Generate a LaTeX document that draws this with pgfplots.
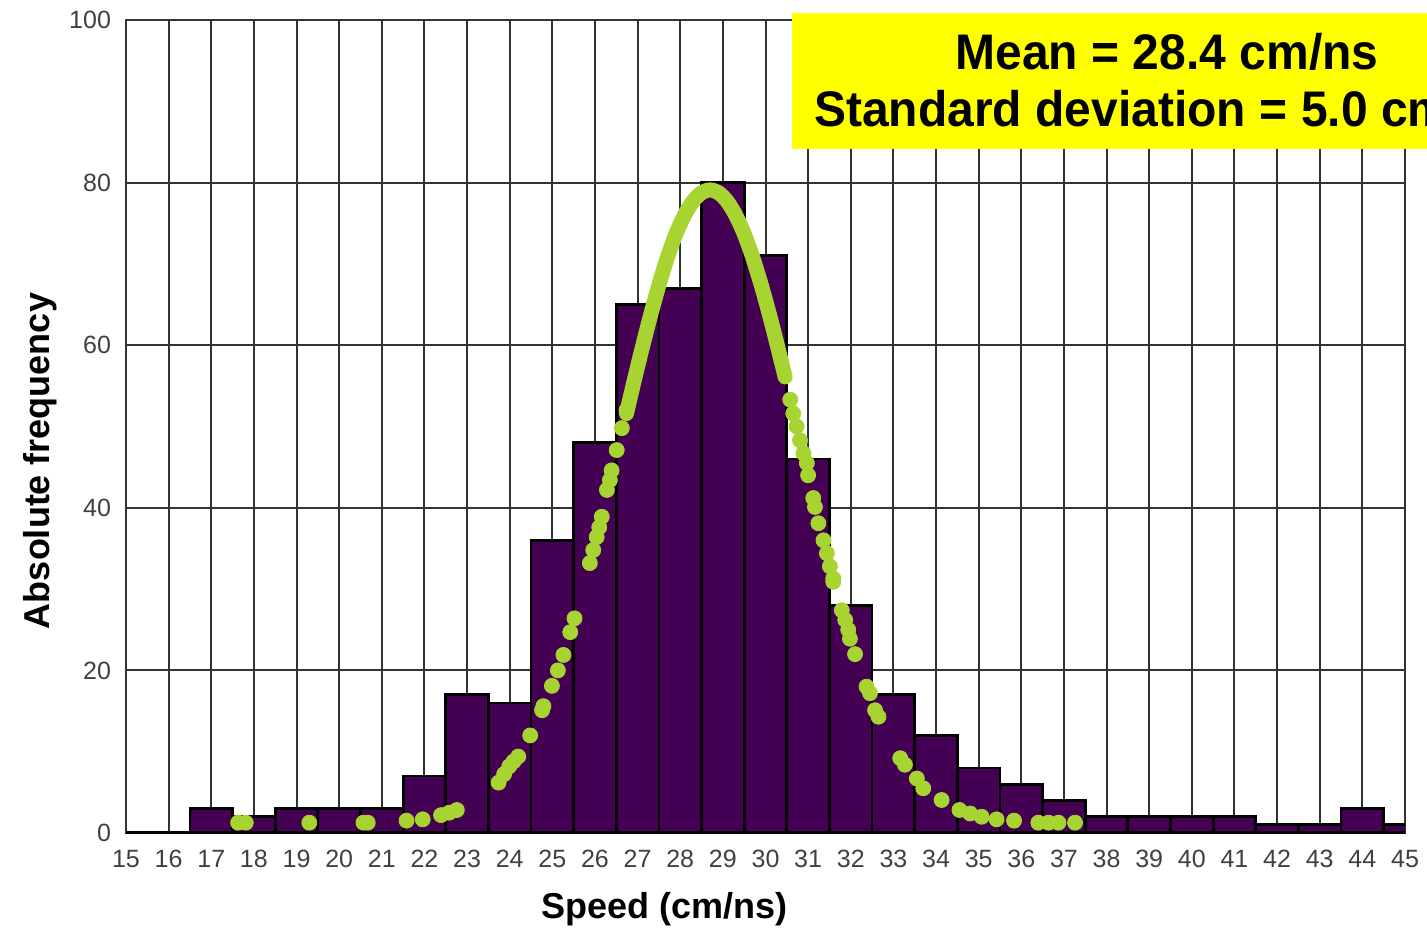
\documentclass[border=0pt]{standalone}
\usepackage{pgfplots}
\pgfplotsset{compat=1.18}
\usepackage{fontspec}
\setmainfont{Liberation Sans}
\newfontfamily\boxfont[FakeStretch=0.96]{Liberation Sans}

\definecolor{barpurple}{HTML}{440154}
\definecolor{fitgreen}{HTML}{A8D432}
\definecolor{gridgray}{HTML}{333333}
\definecolor{ticktext}{HTML}{404040}
\definecolor{boxyellow}{HTML}{FFFF00}

\begin{document}
\begin{tikzpicture}[x=1pt,y=1pt]
\useasboundingbox (-63,-48.5) rectangle (650.5,416.5);
\clip (-63,-48.5) rectangle (650.5,416.5);
\begin{axis}[
  at={(0,0)}, anchor=south west,
  scale only axis, width=639.5pt, height=406.5pt,
  xmin=15, xmax=45, ymin=0, ymax=100,
  xtick={15,...,45}, ytick={0,20,...,100},
  grid=major,
  major grid style={gridgray, line width=1pt},
  axis line style={gridgray, line width=1pt},
  tick style={draw=none},
  /pgf/number format/assume math mode=true,
  ticklabel style={font=\fontsize{12.5}{14}\selectfont, text=ticktext},
  xticklabel shift=5pt,
  yticklabel shift=4pt,
  xlabel={Speed (cm/ns)},
  ylabel={Absolute frequency},
  label style={font=\bfseries\fontsize{18}{21}\selectfont, text=black},
  xlabel style={at={(axis description cs:0.4214,-0.0935)}, anchor=center},
  ylabel style={at={(axis description cs:-0.0672,0.4576)}, anchor=center},
]
% histogram counts per 1 cm/ns bin (bin centres)
\addplot[ybar, bar width=1, bar shift=0, fill=barpurple, draw=black, line width=1.4pt]
  table[x=x, y=n] {
x  n
17 3
18 2
19 3
20 3
21 3
22 7
23 17
24 16
25 36
26 48
27 65
28 67
29 80
30 71
31 46
32 28
33 17
34 12
35 8
36 6
37 4
38 2
39 2
40 2
41 2
42 1
43 1
44 3
45 1
};
% baseline of the histogram
\addplot[black, line width=2pt] coordinates {(15,0) (45,0)};

% fitted curve: densely sampled centre part
\addplot[fitgreen, line width=7.5pt, line cap=round, smooth] coordinates {
 (26.74,51.6) (26.9,55.2) (27.1,59.5) (27.3,63.6) (27.5,67.4) (27.7,70.8)
 (27.9,73.7) (28.1,76.0) (28.3,77.7) (28.5,78.75) (28.7,79.1) (28.9,78.75)
 (29.1,77.7) (29.3,76.0) (29.5,73.7) (29.7,70.8) (29.9,67.4) (30.1,63.6)
 (30.3,59.5) (30.46,56.1)
};
% fitted curve: sparse points in the flanks
\addplot[only marks, mark=*, mark size=3.75pt, color=fitgreen, mark options={draw=fitgreen, fill=fitgreen}] coordinates {
 (17.63,1.27) (17.81,1.27) (19.30,1.27) (20.57,1.27) (20.67,1.27)
 (21.58,1.52) (21.96,1.68) (22.39,2.2) (22.58,2.5) (22.76,2.83)
 (23.74,6.2) (23.87,7.25) (23.99,8.2) (24.09,8.8) (24.2,9.4)
 (24.48,12.0) (24.76,15.1) (24.79,15.6) (24.99,18.1) (25.13,20.0)
 (25.26,21.9) (25.42,24.7) (25.52,26.4)
 (25.88,33.2) (25.96,34.8) (26.04,36.4) (26.10,37.6) (26.16,38.9)
 (26.28,42.2) (26.35,43.4) (26.39,44.6) (26.51,47.1) (26.63,49.8) (26.74,52.0)
 (30.58,53.3) (30.65,51.6) (30.73,50.0) (30.81,48.3) (30.89,46.7)
 (30.97,45.5) (31.0,44.0) (31.12,41.2) (31.16,40.1) (31.24,38.1)
 (31.36,36.0) (31.44,34.4) (31.51,32.8) (31.59,31.3) (31.59,30.9)
 (31.79,27.4) (31.87,26.2) (31.94,25.0) (31.98,23.9) (32.10,22.0)
 (32.37,18.0) (32.45,17.2) (32.57,15.1) (32.65,14.3)
 (33.16,9.2) (33.27,8.4) (33.55,6.7) (33.70,5.5) (34.13,4.06)
 (34.55,2.83) (34.80,2.4) (35.07,2.0) (35.42,1.68) (35.83,1.52)
 (36.40,1.27) (36.64,1.27) (36.87,1.27) (37.26,1.27)
};
\end{axis}
% summary box, running past the right edge of the page
\fill[boxyellow] (333,342) rectangle (720,410);
\node[anchor=base, font=\boxfont\bfseries\fontsize{25}{30}\selectfont] at (520.5,381.5) {Mean = 28.4 cm/ns};
\node[anchor=base, font=\boxfont\bfseries\fontsize{25}{30}\selectfont] at (520.5,353) {Standard deviation = 5.0 cm/ns};
\end{tikzpicture}
\end{document}
